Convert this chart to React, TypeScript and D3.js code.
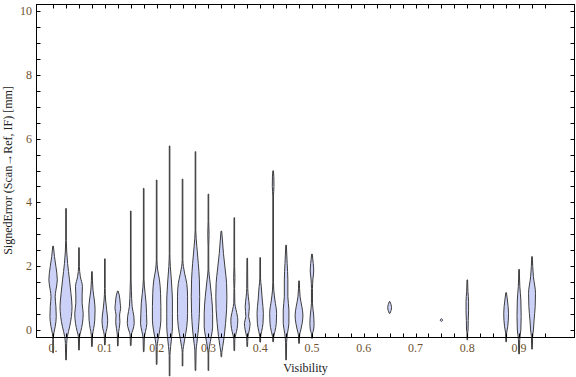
import React from 'react';
import * as d3 from 'd3';

const W = 576;
const H = 377;

// Visibility bin centres for each violin
const visibility = [
  0, 0.025, 0.05, 0.075, 0.1, 0.125, 0.15, 0.175, 0.2, 0.225, 0.25, 0.275, 0.3,
  0.325, 0.35, 0.375, 0.4, 0.425, 0.45, 0.475, 0.5, 0.65, 0.75, 0.8, 0.875, 0.9, 0.925,
];

// Smoothed density profile per violin: [signed error (mm), relative density]
const densityProfiles: [number, number][][] = [
  [[2.63, 0], [2.3, 0.22], [1.99, 0.45], [1.57, 0.67], [1.25, 0.45], [1.04, 0.33], [0.73, 0.45], [0.42, 0.5], [0.1, 0.33], [-0.1, 0.12], [-0.3, 0.03], [-0.72, 0]],
  [[3.81, 0], [2.8, 0.05], [2.09, 0.25], [1.57, 0.55], [1.15, 0.78], [0.73, 0.95], [0.42, 0.85], [0.1, 0.57], [-0.2, 0.22], [-0.42, 0.1], [-0.94, 0]],
  [[2.58, 0], [2.0, 0.06], [1.67, 0.22], [1.36, 0.55], [1.1, 0.5], [0.84, 0.5], [0.52, 0.67], [0.21, 0.55], [-0.05, 0.28], [-0.2, 0.1], [-0.63, 0]],
  [[1.83, 0], [1.25, 0.17], [0.94, 0.38], [0.63, 0.5], [0.31, 0.45], [0.05, 0.28], [-0.15, 0.1], [-0.52, 0]],
  [[2.23, 0], [1.3, 0.05], [0.94, 0.12], [0.63, 0.28], [0.31, 0.45], [0.05, 0.33], [-0.15, 0.1], [-0.47, 0]],
  [[1.22, 0], [1.1, 0.22], [0.84, 0.38], [0.68, 0.45], [0.47, 0.28], [0.26, 0.33], [0.05, 0.22], [-0.15, 0.08], [-0.5, 0]],
  [[3.73, 0], [1.6, 0.05], [1.25, 0.1], [0.73, 0.22], [0.42, 0.5], [0.21, 0.55], [0, 0.33], [-0.15, 0.1], [-0.49, 0]],
  [[4.44, 0], [1.6, 0.05], [1.15, 0.22], [0.84, 0.38], [0.52, 0.45], [0.21, 0.5], [-0.05, 0.28], [-0.25, 0.1], [-0.68, 0]],
  [[4.7, 0], [2.2, 0.05], [1.88, 0.17], [1.57, 0.45], [1.15, 0.62], [0.73, 0.67], [0.31, 0.67], [0, 0.5], [-0.31, 0.22], [-0.52, 0.08], [-1.08, 0]],
  [[5.77, 0], [2.4, 0.04], [1.99, 0.12], [1.57, 0.28], [1.25, 0.38], [0.94, 0.45], [0.52, 0.45], [0.1, 0.45], [-0.21, 0.33], [-0.52, 0.17], [-0.8, 0.06], [-1.44, 0]],
  [[4.73, 0], [2.2, 0.05], [1.78, 0.33], [1.46, 0.67], [1.04, 0.8], [0.52, 0.8], [0.1, 0.67], [-0.31, 0.33], [-0.52, 0.15], [-0.7, 0.05], [-1.13, 0]],
  [[5.59, 0], [3.13, 0.05], [2.61, 0.22], [2.09, 0.45], [1.57, 0.62], [1.04, 0.67], [0.52, 0.62], [0, 0.45], [-0.42, 0.22], [-0.63, 0.1], [-1.27, 0]],
  [[4.26, 0], [3.4, 0.05], [3.0, 0.1], [2.6, 0.05], [1.88, 0.06], [1.57, 0.22], [1.04, 0.5], [0.52, 0.67], [0.1, 0.67], [-0.21, 0.45], [-0.52, 0.17], [-0.75, 0.05], [-1.27, 0]],
  [[3.1, 0], [2.82, 0.17], [2.4, 0.33], [1.88, 0.62], [1.46, 0.83], [1.04, 0.88], [0.63, 0.83], [0.21, 0.67], [-0.21, 0.45], [-0.52, 0.22], [-0.7, 0.08], [-0.84, 0]],
  [[3.52, 0], [2.0, 0.05], [1.65, 0.1], [1.3, 0.05], [0.84, 0.08], [0.63, 0.28], [0.31, 0.55], [0.05, 0.45], [-0.15, 0.22], [-0.3, 0.08], [-0.65, 0]],
  [[2.25, 0], [1.3, 0.08], [1.04, 0.17], [0.73, 0.33], [0.42, 0.22], [0.21, 0.45], [0, 0.33], [-0.2, 0.12], [-0.52, 0]],
  [[2.27, 0], [1.6, 0.06], [1.36, 0.17], [0.94, 0.33], [0.52, 0.5], [0.21, 0.45], [-0.05, 0.22], [-0.2, 0.08], [-0.38, 0]],
  [[4.99, 0], [4.8, 0.11], [4.5, 0.13], [4.2, 0.05], [1.5, 0.05], [1.25, 0.1], [0.94, 0.28], [0.52, 0.55], [0.21, 0.5], [-0.05, 0.28], [-0.2, 0.1], [-0.37, 0]],
  [[2.66, 0], [2.09, 0.17], [1.57, 0.28], [1.04, 0.28], [0.63, 0.45], [0.21, 0.45], [-0.1, 0.22], [-0.4, 0.08], [-0.94, 0]],
  [[1.54, 0], [1.04, 0.17], [0.73, 0.45], [0.47, 0.62], [0.21, 0.5], [0, 0.28], [-0.15, 0.1], [-0.42, 0]],
  [[2.38, 0], [2.09, 0.2], [1.85, 0.28], [1.6, 0.15], [1.3, 0.08], [0.84, 0.08], [0.5, 0.25], [0.2, 0.33], [0, 0.25], [-0.1, 0.1], [-0.26, 0]],
  [[0.89, 0], [0.7, 0.3], [0.52, 0]],
  [[0.35, 0], [0.31, 0.2], [0.27, 0]],
  [[1.57, 0], [1.2, 0.1], [0.9, 0.2], [0.6, 0.2], [0.3, 0.15], [0, 0.12], [-0.1, 0.05], [-0.31, 0]],
  [[1.17, 0], [0.94, 0.2], [0.52, 0.38], [0.1, 0.25], [-0.1, 0.08], [-0.37, 0]],
  [[1.9, 0], [1.36, 0.12], [0.94, 0.28], [0.42, 0.33], [0, 0.28], [-0.3, 0.1], [-0.75, 0]],
  [[2.3, 0], [1.67, 0.22], [1.15, 0.55], [0.73, 0.5], [0.31, 0.33], [0, 0.22], [-0.2, 0.1], [-0.6, 0]],
];

const xTickValues = d3.range(0, 0.951, 0.025);
const xLabelValues = [0, 0.1, 0.2, 0.3, 0.4, 0.5, 0.6, 0.7, 0.8, 0.9];
const xLabelTexts = ['0.', '0.1', '0.2', '0.3', '0.4', '0.5', '0.6', '0.7', '0.8', '0.9'];
const yTickValues = d3.range(0, 10.01, 0.5);
const yLabelValues = [0, 2, 4, 6, 8, 10];

const xTitle = 'Visibility';
const yTitle = 'SignedError (Scan\u2192Ref, IF) [mm]';

export default function App() {
  const left = 36, right = 575, top = 4, bottom = 337;
  const x = d3.scaleLinear().domain([-0.033, 1.008]).range([left, right]);
  const y = d3.scaleLinear().domain([-0.22, 10.22]).range([bottom, top]);
  const w = d3.scaleLinear().domain([0, 1]).range([0, 6.3]);
  const minHalf = 0.3;

  const font = '"Liberation Serif", "Times New Roman", serif';
  const labelColor = '#6e5230';
  const tickLen = 4;

  return (
    <svg width={W} height={H} style={{ position: 'absolute', left: 0, top: 0, background: '#fff' }}>
      {/* violins */}
      <g>
        {densityProfiles.map((prof, i) => {
          const cx = x(visibility[i]);
          const gen = d3
            .area<[number, number]>()
            .curve(d3.curveMonotoneY)
            .y((d) => y(d[0]))
            .x0((d) => cx - Math.max(w(d[1]), minHalf))
            .x1((d) => cx + Math.max(w(d[1]), minHalf));
          return (
            <path
              key={i}
              d={gen(prof) || ''}
              fill="rgb(204,210,247)"
              stroke="#3c3c3c"
              strokeWidth={1}
              strokeLinejoin="round"
            />
          );
        })}
      </g>

      {/* frame */}
      <rect x={left + 0.5} y={top + 0.5} width={right - left - 1} height={bottom - top} fill="none" stroke="#000" strokeWidth={1} />

      {/* ticks */}
      <g stroke="#000" strokeWidth={1}>
        {xTickValues.map((v, i) => {
          const px = Math.round(x(v)) + 0.5;
          return (
            <g key={i}>
              <line x1={px} x2={px} y1={bottom + 0.5} y2={bottom + 0.5 - tickLen} />
              <line x1={px} x2={px} y1={top + 0.5} y2={top + 0.5 + tickLen} />
            </g>
          );
        })}
        {yTickValues.map((v, i) => {
          const py = Math.round(y(v)) + 0.5;
          return (
            <g key={i}>
              <line x1={left + 0.5} x2={left + 0.5 + tickLen} y1={py} y2={py} />
              <line x1={right - 0.5} x2={right - 0.5 - tickLen} y1={py} y2={py} />
            </g>
          );
        })}
      </g>

      {/* tick labels */}
      <g fontFamily={font} fontSize={12} fill={labelColor}>
        {xLabelValues.map((v, i) => (
          <text key={i} x={x(v)} y={352} textAnchor="middle">
            {xLabelTexts[i]}
          </text>
        ))}
        {yLabelValues.map((v, i) => (
          <text key={i} x={32} y={y(v) + 4} textAnchor="end">
            {String(v)}
          </text>
        ))}
      </g>

      {/* axis titles */}
      <text x={(left + right) / 2} y={372} textAnchor="middle" fontFamily={font} fontSize={12} fill="#222">
        {xTitle}
      </text>
      <text
        transform={`translate(12, ${(top + bottom) / 2}) rotate(-90)`}
        textAnchor="middle"
        fontFamily={font}
        fontSize={12}
        fill="#222"
      >
        {yTitle}
      </text>
    </svg>
  );
}
